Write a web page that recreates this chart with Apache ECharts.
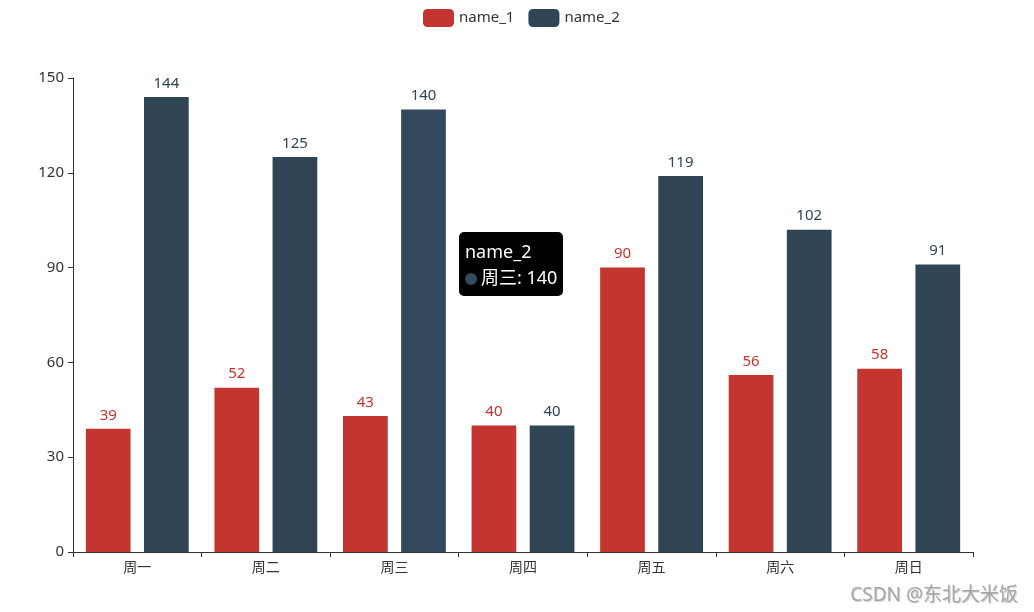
<!DOCTYPE html>
<html>
<head>
<meta charset="utf-8">
<script src="https://cdn.jsdelivr.net/npm/echarts@6/dist/echarts.min.js"></script>
<style>html,body{margin:0;padding:0;background:#fff}#main{width:1034px;height:612px}</style>
</head>
<body>
<div id="main"></div>
<script>
var categories = ['周一', '周二', '周三', '周四', '周五', '周六', '周日'];
var seriesNames = ['name_1', 'name_2'];
var values1 = [39, 52, 43, 40, 90, 56, 58];
var values2 = [144, 125, 140, 40, 119, 102, 91];
var yTicks = { min: 0, max: 150, interval: 30 };

var FONT = '"Noto Sans", "Noto Sans CJK SC", sans-serif';
var chart = echarts.init(document.getElementById('main'));
chart.setOption({
  animation: false,
  color: ['#c23531', '#2f4554'],
  textStyle: { fontFamily: FONT },
  legend: {
    top: 4,
    left: 418,
    itemWidth: 31,
    itemHeight: 18,
    itemGap: 14,
    textStyle: { fontSize: 15, color: '#333', fontFamily: FONT },
    data: seriesNames
  },
  tooltip: {
    trigger: 'item',
    alwaysShowContent: true,
    backgroundColor: '#000',
    borderColor: '#000',
    borderWidth: 0,
    borderRadius: 5,
    padding: [6, 6],
    extraCssText: 'box-shadow:none;line-height:26px;',
    textStyle: { color: '#fff', fontSize: 18, fontFamily: FONT },
    position: function () { return [459, 232]; },
    formatter: function (p) {
      return '<div style="color:#fff;font-size:18px;line-height:26px">' + p.seriesName + '<br/>' +
        '<span style="display:inline-block;width:12px;height:12px;border-radius:6px;background:#34495e;margin-right:4px;vertical-align:-1px"></span>' +
        p.name + ': ' + p.value + '</div>';
    }
  },
  grid: { left: 73, right: 61, top: 78, bottom: 60, containLabel: false },
  xAxis: {
    type: 'category',
    data: categories,
    axisLine: { lineStyle: { color: '#333' } },
    axisTick: { show: true, lineStyle: { color: '#333' } },
    axisLabel: { color: '#333', fontSize: 14, fontFamily: FONT, margin: 9 }
  },
  yAxis: {
    type: 'value',
    min: yTicks.min,
    max: yTicks.max,
    interval: yTicks.interval,
    axisLine: { show: true, lineStyle: { color: '#333' } },
    axisTick: { show: true, lineStyle: { color: '#333' } },
    splitLine: { show: false },
    axisLabel: { color: '#333', fontSize: 15, fontFamily: FONT, margin: 9 }
  },
  series: [
    {
      name: seriesNames[0],
      type: 'bar',
      data: values1,
      barGap: '30%',
      barCategoryGap: '20%',
      label: { show: true, position: 'top', distance: 6, color: '#c23531', fontSize: 15, fontFamily: FONT },
      emphasis: { itemStyle: { color: '#ce4b47' } }
    },
    {
      name: seriesNames[1],
      type: 'bar',
      data: values2,
      barGap: '30%',
      barCategoryGap: '20%',
      label: { show: true, position: 'top', distance: 6, color: '#2f4554', fontSize: 15, fontFamily: FONT },
      emphasis: { itemStyle: { color: '#34495e' } }
    }
  ],
  graphic: [{
    type: 'text',
    right: 16,
    bottom: 7,
    style: {
      text: 'CSDN @东北大米饭',
      fill: '#a6a6a6',
      font: '19px ' + FONT,
      textShadowColor: 'rgba(0,0,0,0.2)',
      textShadowBlur: 1,
      textShadowOffsetX: 1,
      textShadowOffsetY: 1
    }
  }]
});
chart.dispatchAction({ type: 'highlight', seriesIndex: 1, dataIndex: 2 });
chart.dispatchAction({ type: 'showTip', seriesIndex: 1, dataIndex: 2 });
</script>
</body>
</html>
